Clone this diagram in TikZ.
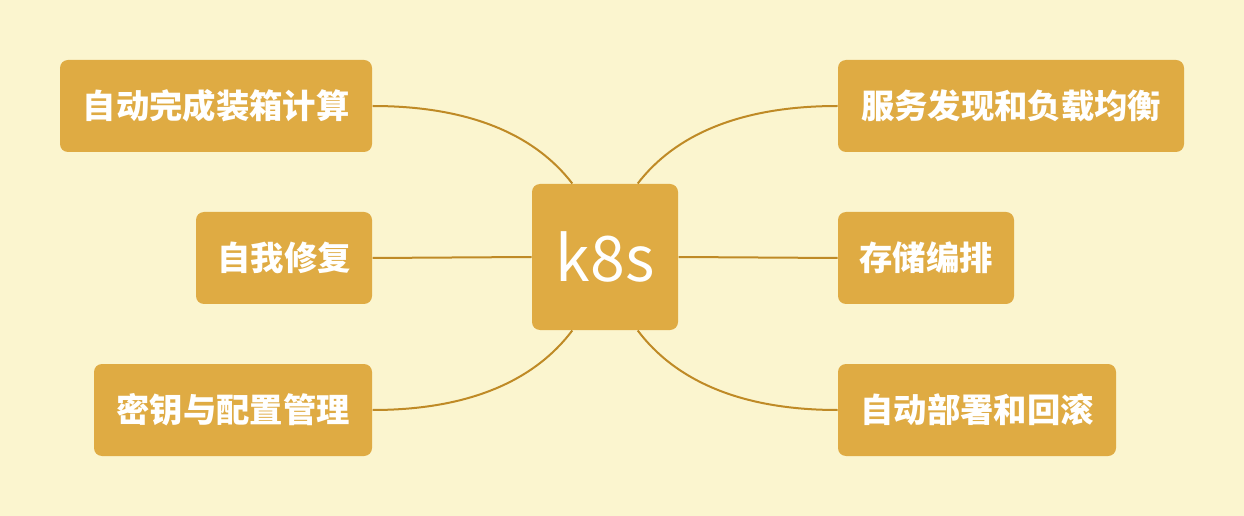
\documentclass[tikz,border=0pt]{standalone}
\usepackage{fontspec}
\newfontfamily\cjk{Noto Sans CJK SC}
\definecolor{bgyellow}{RGB}{251,245,207}
\definecolor{boxgold}{RGB}{223,171,67}
\definecolor{linegold}{RGB}{191,138,38}
\tikzset{every picture/.style={line width=0.75pt}}
\tikzset{
  topic/.style={fill=boxgold, rounded corners=6pt, text=white, inner sep=0pt, minimum height=69pt, font=\cjk\bfseries\fontsize{25}{30}\selectfont},
  link/.style={draw=linegold, line width=1.5pt}
}

\begin{document}
\begin{tikzpicture}[x=0.75pt,y=0.75pt,yscale=-1,xscale=1]
%background, sets diagram size 1244 x 516
\fill [bgyellow] (0,0) rectangle (1244,516);
\useasboundingbox (0,0) rectangle (1244,516);

%Center node
\node [fill=boxgold, rounded corners=6pt, text=white, minimum width=109.5pt, minimum height=109.5pt, inner sep=0pt, font=\cjk\fontsize{47}{52}\selectfont] (k8s) at (605,257) {k8s};

%Left topics
\node [topic, minimum width=234pt] (pack) at (216,106) {自动完成装箱计算};
\node [topic, minimum width=132pt] (heal) at (284,258) {自我修复};
\node [topic, minimum width=208.5pt] (secret) at (233,410) {密钥与配置管理};

%Right topics
\node [topic, minimum width=259.5pt] (svc) at (1011,106) {服务发现和负载均衡};
\node [topic, minimum width=132pt] (store) at (926,258) {存储编排};
\node [topic, minimum width=208.5pt] (deploy) at (977,410) {自动部署和回滚};

%Connectors
\draw [link] (pack.east) .. controls (470,106) and (535,135) .. (k8s.114);
\draw [link] (heal.east) -- (k8s.west);
\draw [link] (secret.east) .. controls (470,410) and (535,380) .. (k8s.246);
\draw [link] (svc.west) .. controls (740,106) and (675,135) .. (k8s.66);
\draw [link] (store.west) -- (k8s.east);
\draw [link] (deploy.west) .. controls (740,410) and (675,380) .. (k8s.294);

\end{tikzpicture}
\end{document}
